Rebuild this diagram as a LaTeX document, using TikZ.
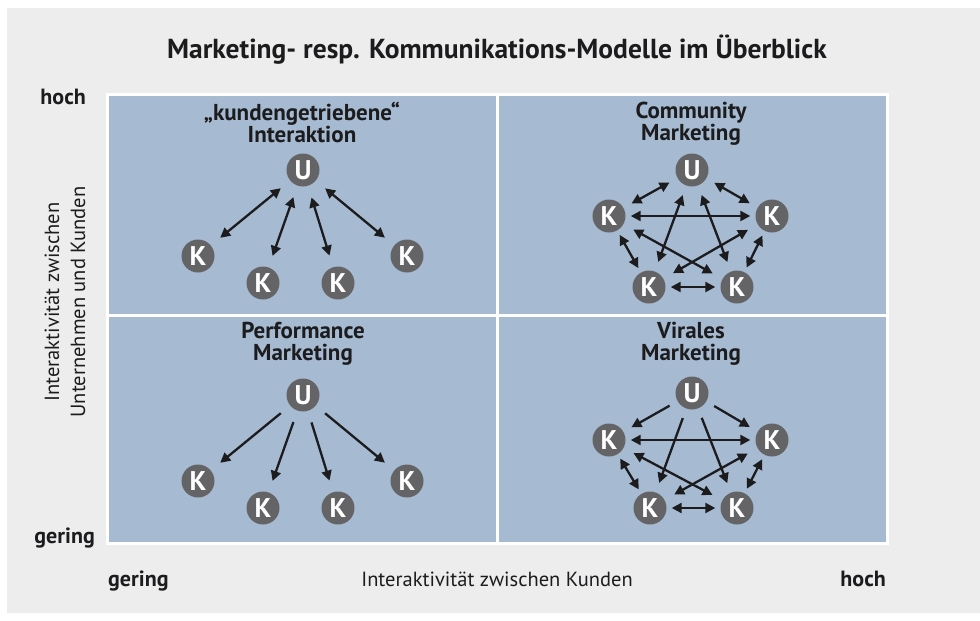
\documentclass[tikz,border=0pt]{standalone}
\usepackage{fontspec}
\setmainfont{PT Sans}
\usetikzlibrary{arrows.meta}

\definecolor{paper}{RGB}{236,237,236}
\definecolor{field}{RGB}{166,187,209}
\definecolor{agentfill}{RGB}{100,100,102}
\definecolor{ink}{RGB}{28,28,30}

\tikzset{
  agent/.style={circle, fill=agentfill, minimum size=33pt, inner sep=0pt,
    text=white, font=\fontsize{27}{27}\selectfont\bfseries},
  tip/.tip={Triangle[length=10pt,width=10pt]},
  uni/.style={-tip, line width=2.3pt, draw=ink},
  bi/.style={tip-tip, line width=2.3pt, draw=ink},
  far/.style={shorten <=12pt, shorten >=12pt},
  gap/.style={shorten <=#1, shorten >=#1},
  quadtitle/.style={font=\fontsize{23}{22}\selectfont\bfseries, text=ink,
    align=center, inner sep=0pt, anchor=north},
  axisbold/.style={font=\fontsize{22}{24}\selectfont\bfseries, text=ink, inner sep=0pt},
  axisplain/.style={font=\fontsize{20.5}{26}\selectfont, text=ink, inner sep=0pt},
}

\begin{document}
\begin{tikzpicture}[x=1pt,y=-1pt]
  \useasboundingbox (0,0) rectangle (980,621);
  \fill[white] (0,0) rectangle (980,621);
  \fill[paper] (7,8) rectangle (980,613);

  % title
  \node[font=\fontsize{27.5}{30}\selectfont\bfseries, text=ink, anchor=base, inner sep=0pt]
    (title) at (497,58) {Marketing- resp. Kommunikations-Modelle im Überblick};

  % quadrant fields with white frame
  \fill[white] (106,93) rectangle (889,545);
  \fill[field] (109,96) rectangle (496,314);
  \fill[field] (499,96) rectangle (886,314);
  \fill[field] (109,317) rectangle (496,542);
  \fill[field] (499,317) rectangle (886,542);

  % axis labels
  \node[axisbold, anchor=base east] (yhigh) at (86,104) {hoch};
  \node[axisbold, anchor=base east] (ylow) at (95,543) {gering};
  \node[axisbold, anchor=base west] (xlow) at (108,586) {gering};
  \node[axisbold, anchor=base east] (xhigh) at (886,586) {hoch};
  \node[axisplain, anchor=base] (xlabel) at (497,586) {Interaktivität zwischen Kunden};
  \node[axisplain, align=center, rotate=90] (ylabel) at (65,302)
    {Interaktivität zwischen\\Unternehmen und Kunden};

  % quadrant titles
  \node[quadtitle] (tltitle) at (302,102) {„kundengetriebene“\\Interaktion};
  \node[quadtitle] (trtitle) at (691,102) {Community\\Marketing};
  \node[quadtitle] (bltitle) at (303,322) {Performance\\Marketing};
  \node[quadtitle] (brtitle) at (691,322) {Virales\\Marketing};

  % customer driven interaction
  \node[agent] (tlU) at (303,170) {U};
  \node[agent] (tlK1) at (198,256) {K};
  \node[agent] (tlK2) at (263,283) {K};
  \node[agent] (tlK3) at (338,283) {K};
  \node[agent] (tlK4) at (407,256) {K};
  \foreach \k in {tlK1,tlK2,tlK3,tlK4} \draw[bi,far] (tlU) -- (\k);

  % performance marketing
  \node[agent] (blU) at (303,395) {U};
  \node[agent] (blK1) at (198,481) {K};
  \node[agent] (blK2) at (263,508) {K};
  \node[agent] (blK3) at (338,508) {K};
  \node[agent] (blK4) at (407,481) {K};
  \foreach \k in {blK1,blK2,blK3,blK4} \draw[uni,far] (blU) -- (\k);

  % community marketing
  \node[agent] (trU) at (692,170) {U};
  \node[agent] (trL) at (609,216) {K};
  \node[agent] (trR) at (772,216) {K};
  \node[agent] (trBL) at (649,287) {K};
  \node[agent] (trBR) at (737,287) {K};
  \foreach \a/\b/\g in {trU/trL/9pt,trU/trR/9pt,trU/trBL/10pt,trU/trBR/10pt,
      trL/trBR/11pt,trR/trBL/11pt,trL/trR/5pt,trL/trBL/5pt,trR/trBR/5pt,trBL/trBR/5pt}
    \draw[bi,gap=\g] (\a) -- (\b);

  % viral marketing
  \node[agent] (brU) at (692,393) {U};
  \node[agent] (brL) at (609,440) {K};
  \node[agent] (brR) at (772,440) {K};
  \node[agent] (brBL) at (650,508) {K};
  \node[agent] (brBR) at (737,508) {K};
  \foreach \k/\g in {brL/9pt,brR/9pt,brBL/10pt,brBR/10pt}
    \draw[uni,gap=\g] (brU) -- (\k);
  \foreach \a/\b/\g in {brL/brBR/11pt,brR/brBL/11pt,brL/brR/5pt,brL/brBL/5pt,brR/brBR/5pt,brBL/brBR/5pt}
    \draw[bi,gap=\g] (\a) -- (\b);
\end{tikzpicture}
\end{document}
